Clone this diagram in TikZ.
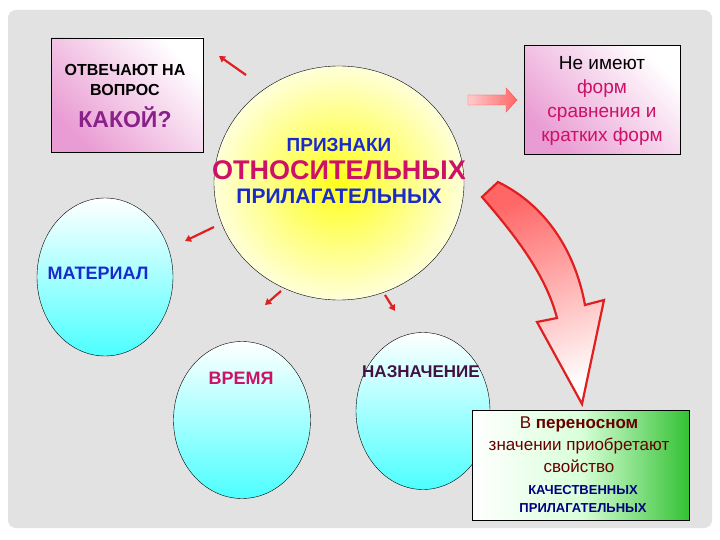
\documentclass[tikz,border=0pt]{standalone}
\usepackage{fontspec}
\setmainfont{Liberation Sans}
\usetikzlibrary{arrows.meta,shapes.geometric}
\definecolor{panel}{HTML}{E2E2E2}
\definecolor{pinkc}{HTML}{E070C0}
\definecolor{purp}{HTML}{882288}
\definecolor{mag}{HTML}{CC1166}
\definecolor{blu}{HTML}{1A2ACC}
\definecolor{arr}{HTML}{E02020}
\tikzset{
  smallarr/.style={-{Triangle[length=6pt,width=7pt]},line width=2.2pt,draw=arr},
  pinkbox/.style={draw=black,thin,top color=white,bottom color=pinkc!70,shading angle=-45},
  ball/.style={draw=black,thin,ellipse,top color=white,bottom color=cyan!70!white},
}
\begin{document}
\begin{tikzpicture}[x=1pt,y=-1pt]
\useasboundingbox (0,0) rectangle (720,540);
\fill[white] (0,0) rectangle (720,540);
\fill[panel,rounded corners=8pt] (8,10) rectangle (712,528);
% box 1
\node[pinkbox,minimum width=152pt,minimum height=114pt] (b1) at (127,95) {};
\node[align=center,font=\bfseries\fontsize{16}{20}\selectfont] (b1t) at (125,80) {ОТВЕЧАЮТ НА\\ВОПРОС};
\node[font=\bfseries\fontsize{23}{24}\selectfont,text=purp] (b1k) at (125,117) {КАКОЙ?};
% box 2
\node[pinkbox,minimum width=156pt,minimum height=109pt] (b2) at (602,100) {};
\node[align=center,font=\fontsize{19}{24}\selectfont] (b2t) at (602,101) {Не имеют\\\textcolor{mag}{форм}\\\textcolor{mag}{сравнения и}\\\textcolor{mag}{кратких форм}};
% big circle
\shade[inner color=yellow!90,outer color=yellow!15!white] (339,183) ellipse (125 and 117);
\draw[thin] (339,183) coordinate (c0) ellipse (125 and 117);
\node[font=\bfseries\fontsize{19}{20}\selectfont,text=blu] (p1) at (339,145) {ПРИЗНАКИ};
\node[font=\bfseries\fontsize{27}{28}\selectfont,text=mag] (p2) at (339,170) {ОТНОСИТЕЛЬНЫХ};
\node[font=\bfseries\fontsize{21}{22}\selectfont,text=blu] (p3) at (339,196) {ПРИЛАГАТЕЛЬНЫХ};
% small circles
\node[ball,minimum width=136pt,minimum height=158pt] (m) at (105,277) {};
\node[font=\bfseries\fontsize{18}{19}\selectfont,text=blu] at (98,273) {МАТЕРИАЛ};
\node[ball,minimum width=137pt,minimum height=157pt] (v) at (242,420) {};
\node[font=\bfseries\fontsize{18}{19}\selectfont,text=mag] at (241,378) {ВРЕМЯ};
\node[ball,minimum width=134pt,minimum height=157pt] (n) at (423,411) {};
\node[font=\bfseries\fontsize{17}{18}\selectfont,text=purp!50!black] at (421,372) {НАЗНАЧЕНИЕ};
% box 3
\node[draw=black,thin,minimum width=217pt,minimum height=110pt,left color=white,right color=green!70!black!80,middle color=green!15!white] (b3) at (581,465) {};
\node[align=center,font=\fontsize{17}{22}\selectfont,text=red!40!black] (b3t) at (579,445) {В \textbf{переносном}\\значении приобретают\\свойство};
\node[align=center,font=\bfseries\fontsize{13}{18}\selectfont,text=blue!50!black] (b3q) at (583,499) {КАЧЕСТВЕННЫХ\\ПРИЛАГАТЕЛЬНЫХ};
% small arrows
\coordinate (a1s) at (246,75); \coordinate (a1e) at (219,56);
\draw[smallarr] (a1s) -- (a1e);
\coordinate (a2s) at (214,227); \coordinate (a2e) at (185,241);
\draw[smallarr] (a2s) -- (a2e);
\coordinate (a3s) at (281,291); \coordinate (a3e) at (265,305);
\draw[smallarr] (a3s) -- (a3e);
\coordinate (a4s) at (385,295); \coordinate (a4e) at (395,311);
\draw[smallarr] (a4s) -- (a4e);
% block arrow to box 2
\draw[draw=red!70!white,left color=red!20!white,right color=red!60!white] (468,95) -- (506,95) -- (506,88) -- (517,100) -- (506,112) -- (506,105) -- (468,105) -- cycle;
% curved big arrow
\draw[draw=arr,line width=2.2pt,left color=red!60!white,right color=white,shading angle=20]
 (482,197) .. controls (512,232) and (545,272) .. (557,318) -- (537,322) -- (582,404) -- (604,300) -- (585,305)
 .. controls (575,250) and (545,205) .. (498,182) -- cycle;
\end{tikzpicture}
\end{document}
